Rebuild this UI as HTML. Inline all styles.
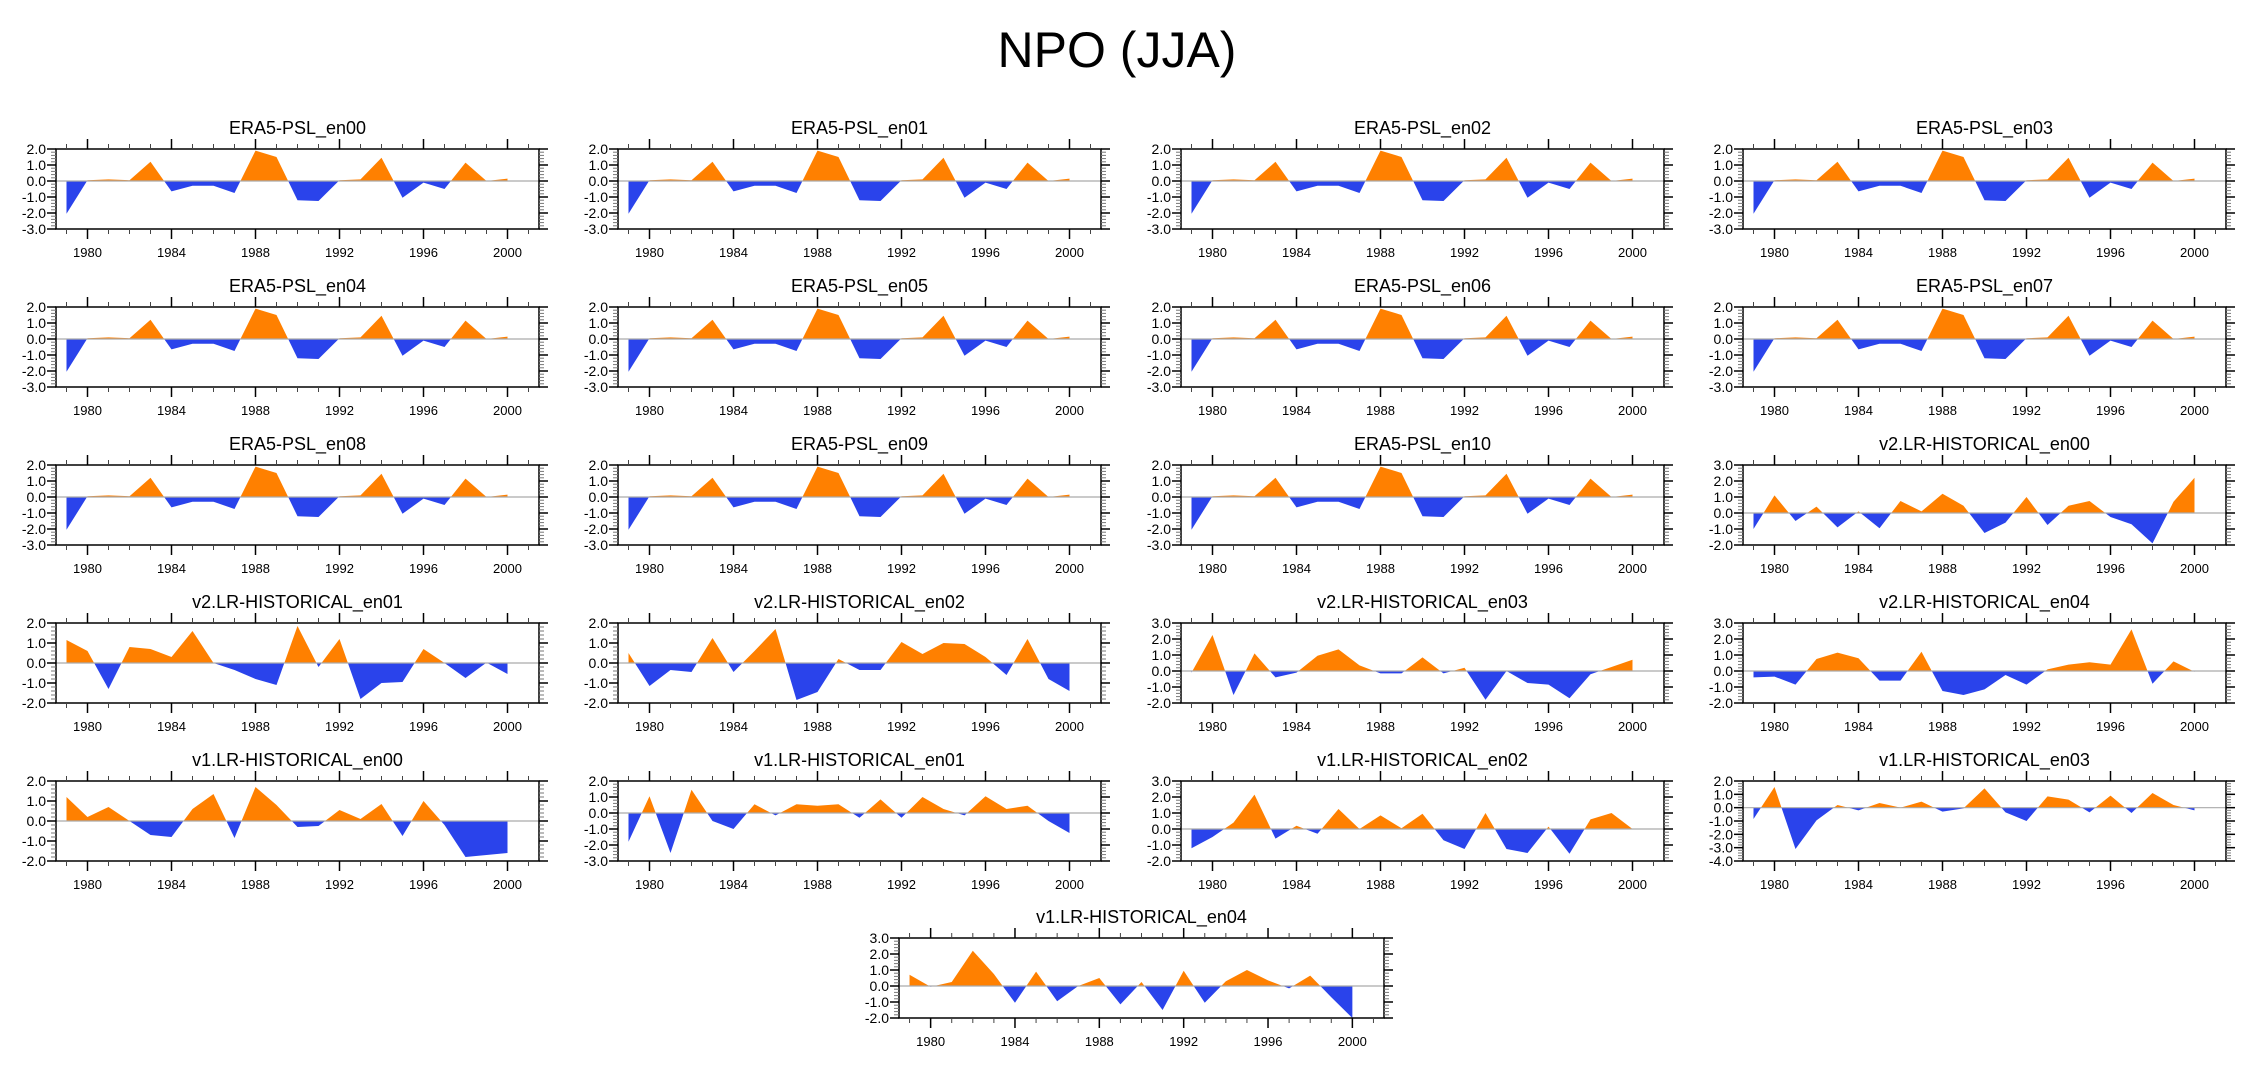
<!DOCTYPE html>
<html><head><meta charset="utf-8"><style>
html,body{margin:0;padding:0;background:#fff;}
svg{display:block;font-family:"Liberation Sans",Arial,sans-serif;}
</style></head><body>
<svg id="chart" width="2252" height="1078" viewBox="0 0 2252 1078">
<text x="1117" y="67" font-size="50" text-anchor="middle">NPO (JJA)</text>
</svg>
<script>
const years = [1979,1980,1981,1982,1983,1984,1985,1986,1987,1988,1989,1990,1991,1992,1993,1994,1995,1996,1997,1998,1999,2000];
const era5 = [-2.05,0.05,0.1,0.05,1.2,-0.65,-0.3,-0.3,-0.75,1.9,1.5,-1.2,-1.25,0.05,0.1,1.45,-1.05,-0.1,-0.5,1.15,0.0,0.15];
const v2en00 = [-1.0,1.1,-0.5,0.4,-0.9,0.1,-0.95,0.75,0.1,1.2,0.45,-1.25,-0.6,1.0,-0.75,0.45,0.75,-0.25,-0.7,-1.9,0.7,2.2];
const v2en01 = [1.15,0.6,-1.3,0.8,0.7,0.3,1.6,0.0,-0.35,-0.8,-1.1,1.85,-0.2,1.2,-1.8,-1.0,-0.95,0.7,0.0,-0.75,0.02,-0.55];
const v2en02 = [0.5,-1.15,-0.35,-0.45,1.25,-0.45,0.6,1.7,-1.85,-1.45,0.2,-0.35,-0.35,1.05,0.45,1.0,0.95,0.3,-0.6,1.2,-0.8,-1.4];
const v2en03 = [-0.1,2.25,-1.5,1.1,-0.4,-0.1,0.95,1.35,0.35,-0.15,-0.15,0.85,-0.15,0.2,-1.8,0.0,-0.75,-0.85,-1.7,-0.2,0.25,0.7];
const v2en04 = [-0.4,-0.35,-0.85,0.75,1.15,0.8,-0.6,-0.6,1.2,-1.25,-1.5,-1.15,-0.25,-0.85,0.1,0.4,0.55,0.4,2.6,-0.8,0.6,-0.05];
const v1en00 = [1.2,0.2,0.7,0.0,-0.7,-0.8,0.6,1.35,-0.85,1.7,0.8,-0.3,-0.25,0.55,0.1,0.85,-0.75,1.0,-0.2,-1.8,-1.7,-1.6];
const v1en01 = [-1.8,1.05,-2.5,1.45,-0.5,-1.0,0.55,-0.15,0.55,0.45,0.55,-0.3,0.85,-0.3,1.0,0.25,-0.15,1.05,0.25,0.45,-0.5,-1.25];
const v1en02 = [-1.2,-0.5,0.4,2.15,-0.6,0.2,-0.3,1.25,0.0,0.85,0.05,0.95,-0.7,-1.25,1.0,-1.25,-1.5,0.15,-1.55,0.6,1.0,0.0];
const v1en03 = [-0.85,1.55,-3.1,-0.95,0.2,-0.2,0.35,0.0,0.45,-0.3,-0.05,1.45,-0.35,-1.0,0.85,0.6,-0.35,0.9,-0.4,1.1,0.2,-0.2];
const v1en04 = [0.7,-0.05,0.25,2.2,0.75,-1.05,0.9,-0.95,0.0,0.5,-1.15,0.25,-1.5,0.95,-1.05,0.3,1.0,0.35,-0.15,0.65,-0.7,-2.0];
const xTickLabels = ["1980","1984","1988","1992","1996","2000"];
const panelTitles = ["ERA5-PSL_en00","ERA5-PSL_en01","ERA5-PSL_en02","ERA5-PSL_en03","ERA5-PSL_en04","ERA5-PSL_en05","ERA5-PSL_en06","ERA5-PSL_en07","ERA5-PSL_en08","ERA5-PSL_en09","ERA5-PSL_en10","v2.LR-HISTORICAL_en00","v2.LR-HISTORICAL_en01","v2.LR-HISTORICAL_en02","v2.LR-HISTORICAL_en03","v2.LR-HISTORICAL_en04","v1.LR-HISTORICAL_en00","v1.LR-HISTORICAL_en01","v1.LR-HISTORICAL_en02","v1.LR-HISTORICAL_en03","v1.LR-HISTORICAL_en04"];
const panelSeries = [era5,era5,era5,era5,era5,era5,era5,era5,era5,era5,era5,v2en00,v2en01,v2en02,v2en03,v2en04,v1en00,v1en01,v1en02,v1en03,v1en04];
const yMins = [-3,-3,-3,-3,-3,-3,-3,-3,-3,-3,-3,-2,-2,-2,-2,-2,-2,-3,-2,-4,-2];
const yMaxs = [2,2,2,2,2,2,2,2,2,2,2,3,2,2,3,3,2,2,3,2,3];

const NS = "http://www.w3.org/2000/svg";
const svg = document.getElementById('chart');
function mk(tag, attrs, parent){
  const e = document.createElementNS(NS, tag);
  for (const k in attrs) e.setAttribute(k, attrs[k]);
  (parent||svg).appendChild(e);
  return e;
}
const colX = [56, 618, 1181, 1743];
const rowY = [149, 307, 465, 623, 781, 938];
const W = 483, H = 80;

panelTitles.forEach((title, i) => {
  let bx, by, bw = W;
  if (i < 20) { bx = colX[i % 4]; by = rowY[Math.floor(i / 4)]; }
  else { bx = 899; by = rowY[5]; bw = 485; }
  const data = panelSeries[i], ymin = yMins[i], ymax = yMaxs[i];
  const g = mk('g', {});
  
  
  const xs = yr => bx + (yr - 1978.5) / 23 * bw;
  const ys = v => by + (ymax - v) / (ymax - ymin) * H;
  const t = mk('text', {x: bx + bw/2, y: by - 15, 'font-size': 18, 'text-anchor': 'middle'}, g);
  t.textContent = title;
  
  
  const y0 = ys(0);
  let d = 'M' + xs(years[0]) + ',' + y0;
  years.forEach((yr, k) => { d += ' L' + xs(yr) + ',' + ys(data[k]); });
  d += ' L' + xs(years[years.length-1]) + ',' + y0 + ' Z';
  const cid = 'c' + i;
  const defs = mk('defs', {}, g);
  const cp1 = mk('clipPath', {id: cid + 'a'}, defs);
  mk('rect', {x: bx, y: by - 5, width: bw, height: y0 - by + 5}, cp1);
  const cp2 = mk('clipPath', {id: cid + 'b'}, defs);
  mk('rect', {x: bx, y: y0, width: bw, height: by + H - y0 + 5}, cp2);
  const pos = mk('path', {d: d, fill: '#ff8000', 'clip-path': 'url(#' + cid + 'a)'}, g);
  
  
  const neg = mk('path', {d: d, fill: '#2a43eb', 'clip-path': 'url(#' + cid + 'b)'}, g);
  
  
  const zl = mk('line', {x1: bx, x2: bx + bw, y1: y0, y2: y0, stroke: '#aaa', 'stroke-width': 1.2}, g);
  
  
  const box = mk('rect', {x: bx, y: by, width: bw, height: H, fill: 'none', stroke: '#000', 'stroke-width': 1.5}, g);
  
  
  for (let yr = 1979; yr <= 2001; yr++) {
    const major = (yr % 4 === 0);
    const L = major ? 10 : 5;
    const x = xs(yr);
    mk('line', {x1: x, x2: x, y1: by, y2: by - L, stroke: major ? '#000' : '#444', 'stroke-width': major ? 1.5 : 1}, g);
    mk('line', {x1: x, x2: x, y1: by + H, y2: by + H + L, stroke: major ? '#000' : '#444', 'stroke-width': major ? 1.5 : 1}, g);
  }
  xTickLabels.forEach(lbl => {
    const tx = mk('text', {x: xs(+lbl), y: by + H + 28, 'font-size': 13, 'text-anchor': 'middle'}, g);
    tx.textContent = lbl;
    
    
  });
  for (let v10 = ymin * 10; v10 <= ymax * 10; v10 += 2) {
    const v = v10 / 10, major = (v10 % 10 === 0);
    const L = major ? 9 : 5, y = ys(v);
    mk('line', {x1: bx, x2: bx - L, y1: y, y2: y, stroke: major ? '#000' : '#777', 'stroke-width': major ? 1.5 : 1}, g);
    mk('line', {x1: bx + bw, x2: bx + bw + L, y1: y, y2: y, stroke: major ? '#000' : '#777', 'stroke-width': major ? 1.5 : 1}, g);
    if (major) {
      const ty = mk('text', {x: bx - 10, y: y + 5, 'font-size': 14, 'text-anchor': 'end'}, g);
      ty.textContent = v.toFixed(1);
      
      
    }
  }
});
</script>
</body></html>
